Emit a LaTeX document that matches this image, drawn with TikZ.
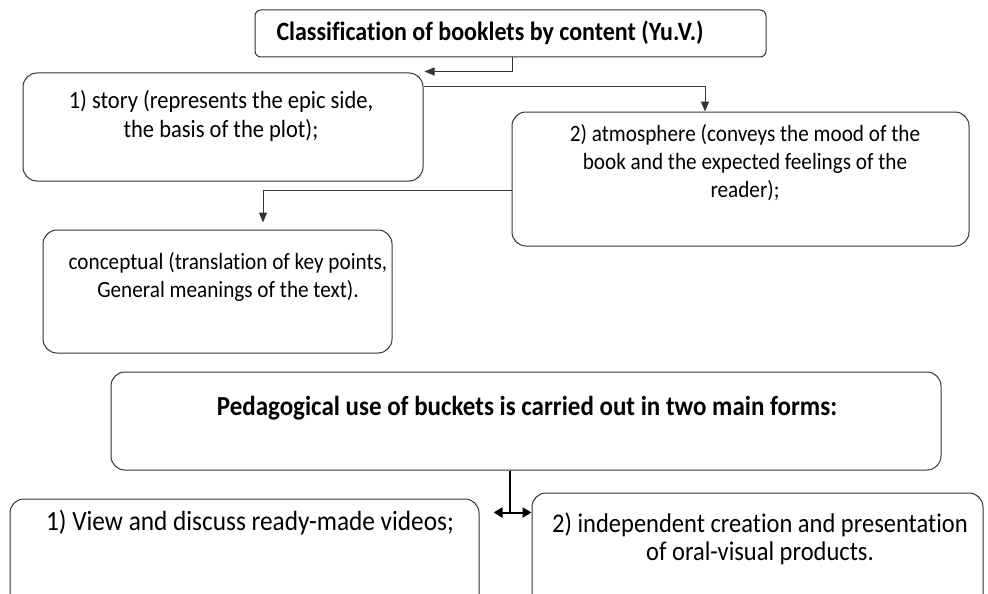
\documentclass[tikz,border=0pt]{standalone}
\usepackage{fontspec}
\setmainfont{Carlito}[Ligatures=NoCommon]
\usetikzlibrary{arrows.meta}
\newcommand{\tallrow}[1]{\scalebox{1}[1.1]{#1}}
\begin{document}
\begin{tikzpicture}[x=1pt,y=-1pt,
  box/.style={draw=black!80,line width=1pt,rounded corners=14pt,inner sep=0pt},
  txt/.style={align=center,inner sep=0pt,text=black,font=\fontsize{21.2}{28}\selectfont},
  btxt/.style={txt,font=\bfseries\fontsize{24}{28}\selectfont},
  bigtxt/.style={txt,font=\fontsize{24.5}{28}\selectfont},
  link/.style={draw=black!80,line width=1pt,-{Triangle[length=10pt,width=8pt]}},
  dlink/.style={draw=black,line width=2pt,{Triangle[length=9pt,width=10pt]}-{Triangle[length=9pt,width=10pt]}}]
\useasboundingbox (0,0) rectangle (988,594);
\clip (0,0) rectangle (988,594);
\node[box,rounded corners=6pt,minimum width=511pt,minimum height=47pt] (title) at (510.5,33.5) {};
\node[btxt] (titlet) at (490,33) {\tallrow{Classification of booklets by content (Yu.V.)}};
\node[box,minimum width=400pt,minimum height=108pt] (story) at (223,127) {};
\node[txt,font=\fontsize{22.5}{28.5}\selectfont] (storyt) at (221,116) {\tallrow{1) story (represents the epic side,}\\\tallrow{the basis of the plot);}};
\node[box,minimum width=457pt,minimum height=134pt] (atmos) at (740.5,179) {};
\node[txt] (atmost) at (745,162.5) {\tallrow{2) atmosphere (conveys the mood of the}\\\tallrow{book and the expected feelings of the}\\\tallrow{reader);}};
\node[box,minimum width=349pt,minimum height=123pt] (conc) at (217.5,291.5) {};
\node[txt] (conct) at (228,277) {\tallrow{conceptual (translation of key points,}\\\tallrow{General meanings of the text).}};
\node[box,minimum width=830pt,minimum height=98pt] (ped) at (526,421) {};
\node[btxt,font=\bfseries\fontsize{25}{28}\selectfont] (pedt) at (527,408) {\tallrow{Pedagogical use of buckets is carried out in two main forms:}};
\node[box,minimum width=469pt,minimum height=116pt] (lvid) at (244.5,557) {};
\node[bigtxt,font=\fontsize{25.3}{28}\selectfont] (lvidt) at (250,523) {\tallrow{1) View and discuss ready-made videos;}};
\node[box,minimum width=451pt,minimum height=122pt] (rvid) at (757.5,554) {};
\node[bigtxt] (rvidt) at (760,539) {\tallrow{2) independent creation and presentation}\\\tallrow{of oral-visual products.}};
\draw[link] ([xshift=1.5pt]title.south) |- ([xshift=1pt,yshift=1pt]story.north east);
\draw[link] ([yshift=-14pt]story.north east) -| ([xshift=-35.5pt]atmos.north);
\draw[link] ([yshift=-11pt]atmos.west) -| ([xshift=45.5pt,yshift=7pt]conc.north);
\draw[line width=2pt] ([xshift=-16pt]ped.south) -- ++(0,42) coordinate (fork);
\draw[dlink] ([xshift=14pt]lvid.east |- fork) -- (rvid.west |- fork);
\end{tikzpicture}
\end{document}
